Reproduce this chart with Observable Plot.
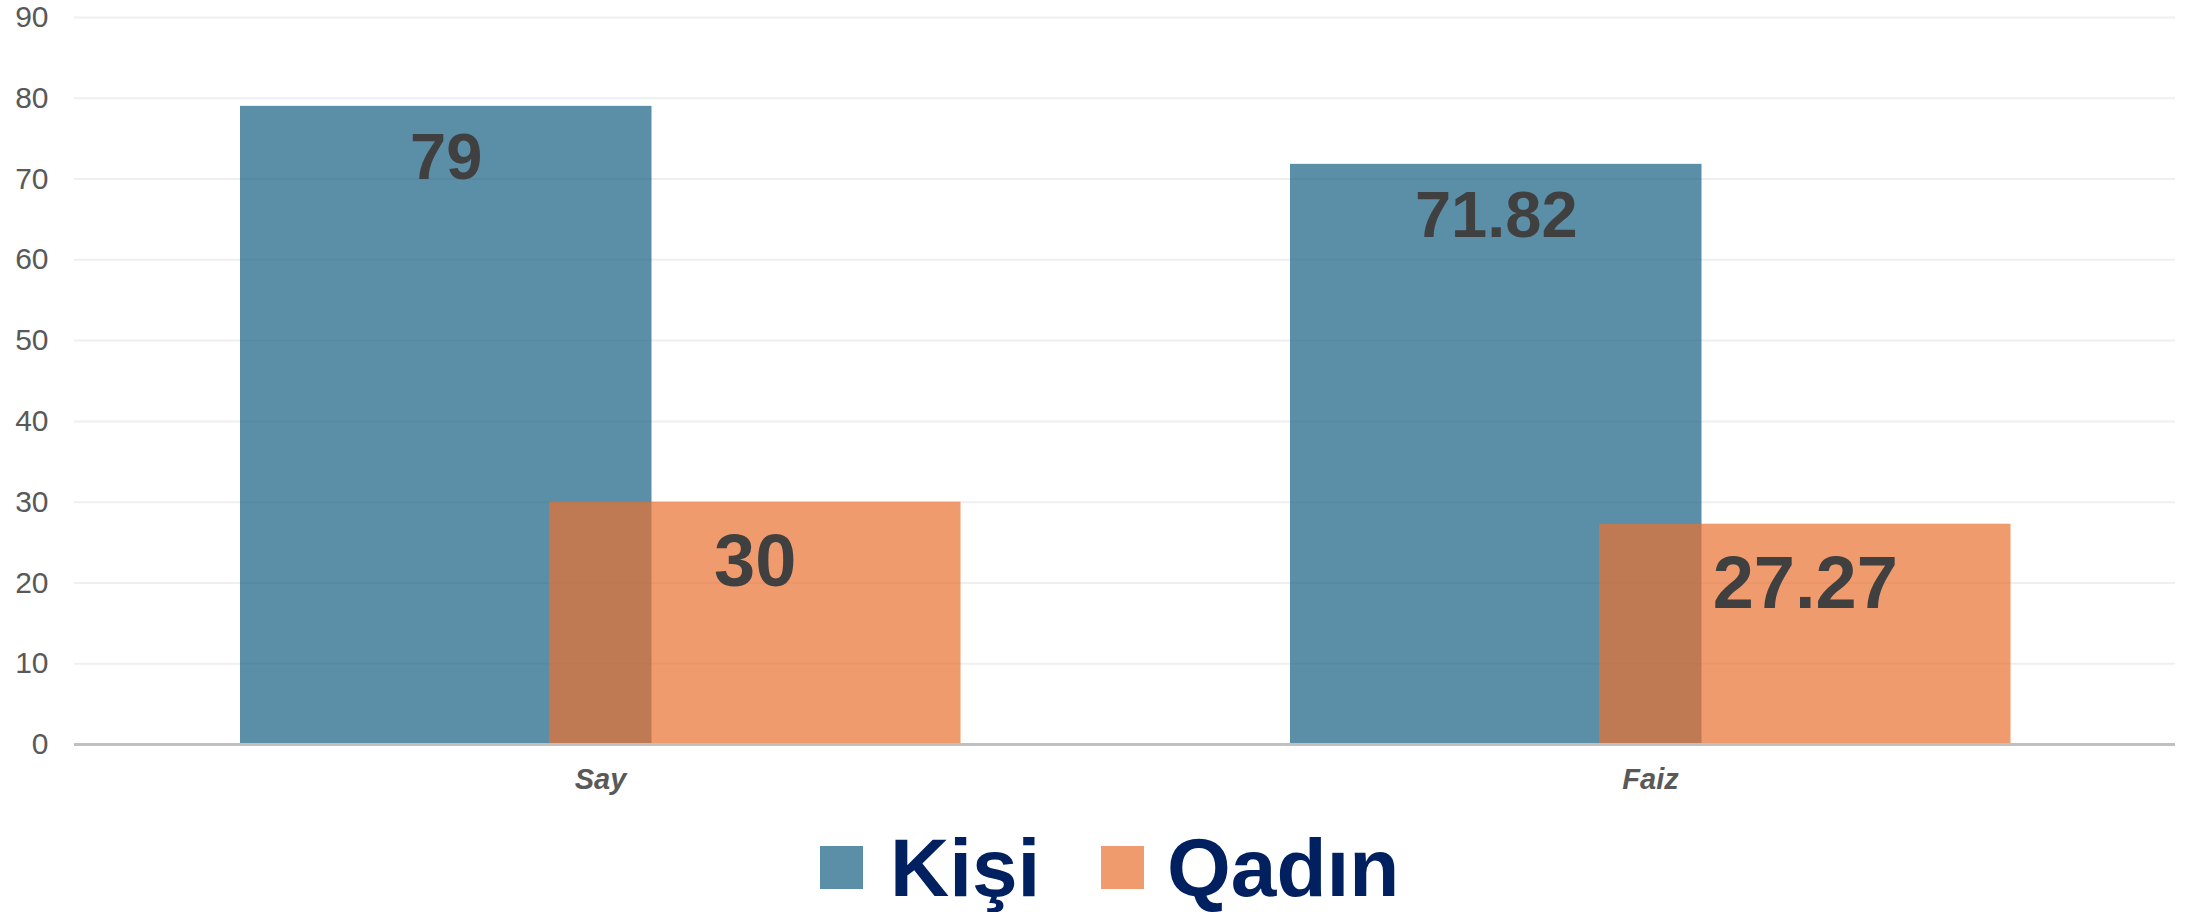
<!DOCTYPE html>
<html>
<head>
<meta charset="utf-8">
<script src="https://cdn.jsdelivr.net/npm/d3@7"></script>
<script src="https://cdn.jsdelivr.net/npm/@observablehq/plot@0.6"></script>
<style>
  html, body { margin: 0; padding: 0; background: #ffffff; }
  #wrap { position: relative; width: 2188px; height: 912px; font-family: "Liberation Sans", Arial, sans-serif; }
  .sq { position: absolute; width: 43px; height: 43px; top: 846px; }
  .lt { position: absolute; top: 827px; font-size: 82px; line-height: 82px; font-weight: bold; color: #002060; white-space: nowrap; }
</style>
</head>
<body>
<div id="wrap"></div>
<script>
// Data
const categories = ["Say", "Faiz"];
const series = ["Kişi", "Qadın"];
const kisiValues = [79, 71.82];
const qadinValues = [30, 27.27];
const kisiLabels = ["79", "71.82"];
const qadinLabels = ["30", "27.27"];
const yTicks = [0, 10, 20, 30, 40, 50, 60, 70, 80, 90];
const colors = ["#155F83", "#EA7030"];

const kisi = categories.map((c, i) => ({cat: c, value: kisiValues[i], label: kisiLabels[i]}));
const qadin = categories.map((c, i) => ({cat: c, value: qadinValues[i], label: qadinLabels[i]}));

const font = "'Liberation Sans', Arial, sans-serif";

const chart = Plot.plot({
  width: 2188,
  height: 800,
  marginLeft: 74,
  marginRight: 13,
  marginTop: 17,
  marginBottom: 56,
  style: {fontFamily: font, background: "#ffffff", overflow: "visible"},
  x: {domain: categories, padding: 0, label: null},
  y: {domain: [0, 90], ticks: yTicks, label: null},
  marks: [
    Plot.ruleY(yTicks.filter(d => d > 0), {stroke: "#efefef", strokeWidth: 2}),
    Plot.axisY({ticks: yTicks, tickSize: 0, tickPadding: 26, fontSize: 30, fill: "#595959", label: null, tickFormat: d => String(d)}),
    Plot.axisX({tickSize: 0, tickPadding: 24, fontSize: 29, fontStyle: "italic", fontWeight: "bold", fill: "#595959", label: null}),
    Plot.barY(kisi, {x: "cat", y: "value", fill: colors[0], fillOpacity: 0.7, insetLeft: 165, insetRight: 473.5}),
    Plot.barY(qadin, {x: "cat", y: "value", fill: colors[1], fillOpacity: 0.7, insetLeft: 474, insetRight: 164.5}),
    Plot.ruleY([0], {stroke: "#c0c0c0", strokeWidth: 3}),
    Plot.text(kisi, {x: "cat", y: "value", text: "label", dx: -154.25, dy: 73, lineAnchor: "bottom", fontSize: 65, fontWeight: "bold", fill: "#404040"}),
    Plot.text(qadin, {x: "cat", y: "value", text: "label", dx: 154.75, dy: 84, lineAnchor: "bottom", fontSize: 74, fontWeight: "bold", fill: "#404040"})
  ]
});

const wrap = document.getElementById("wrap");
wrap.appendChild(chart);

// Legend (HTML, below the SVG)
const legendPos = [{sq: 820, tx: 890}, {sq: 1101, tx: 1167}];
series.forEach((s, i) => {
  const sq = document.createElement("div");
  sq.className = "sq";
  sq.style.left = legendPos[i].sq + "px";
  sq.style.background = colors[i];
  sq.style.opacity = 0.7;
  wrap.appendChild(sq);
  const t = document.createElement("div");
  t.className = "lt";
  t.style.left = legendPos[i].tx + "px";
  t.textContent = s;
  wrap.appendChild(t);
});
</script>
</body>
</html>
